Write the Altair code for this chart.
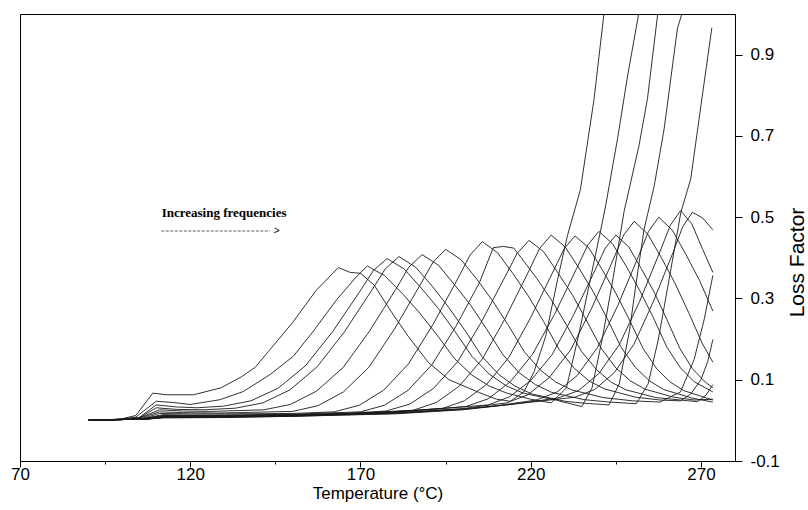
import altair as alt
import pandas as pd

# Loss factor curves (temperature °C, loss factor), lowest frequency first
C1 = [(90,0.000),(95,0.001),(100,0.004),(104,0.012),(109,0.067),(113,0.063),(121,0.063),(129,0.080),(135,0.107),(139,0.130),(143,0.170),(150,0.240),(157,0.320),(163.5,0.376),(167,0.364),(170,0.362),(174,0.333),(179,0.268),(184,0.207),(190,0.142),(196,0.100),(205,0.068),(210,0.052),(214,0.047),(218,0.070),(221,0.120),(224.4,0.207),(227.9,0.347),(230.8,0.455),(234.6,0.568),(238.6,0.790),(241.5,1.000),(243.5,1.150)]
C2 = [(90,0.000),(95,0.001),(100,0.003),(104,0.008),(110,0.047),(115,0.044),(120,0.039),(128.8,0.051),(135.6,0.071),(143.5,0.113),(150.3,0.158),(156.2,0.220),(163.1,0.298),(169,0.355),(172,0.380),(177.1,0.356),(182.3,0.312),(187.4,0.264),(192.5,0.210),(197.6,0.152),(202.8,0.111),(207.9,0.084),(213,0.067),(220,0.052),(226,0.043),(230.5,0.080),(234,0.207),(237.5,0.347),(240.6,0.470),(242,0.528),(245.5,0.693),(248.5,0.850),(251.7,1.000),(253.5,1.120)]
C3 = [(90,0.000),(95,0.001),(100,0.003),(105,0.007),(110,0.038),(116,0.033),(122,0.031),(129.8,0.035),(137.8,0.048),(145.8,0.079),(153.8,0.134),(161.8,0.218),(169.8,0.317),(173.8,0.369),(177.8,0.398),(182.8,0.373),(187.8,0.326),(192.8,0.276),(197.8,0.218),(202.8,0.157),(207.8,0.114),(212.8,0.085),(217.8,0.067),(227.8,0.049),(235,0.034),(238,0.080),(241,0.200),(244,0.340),(247.4,0.513),(251.8,0.676),(254.3,0.792),(257.3,1.000),(259,1.120)]
C4 = [(90,0.000),(95,0.001),(100,0.003),(105,0.006),(110,0.031),(116,0.027),(124,0.026),(133.3,0.030),(141.3,0.043),(149.3,0.075),(157.3,0.132),(165.3,0.218),(173.3,0.320),(177.3,0.373),(181.3,0.403),(186.2,0.377),(191.1,0.330),(195.9,0.278),(200.8,0.220),(205.7,0.157),(210.6,0.113),(215.4,0.084),(220.3,0.065),(230,0.047),(236,0.042),(243,0.038),(246,0.090),(249,0.220),(251,0.340),(253.3,0.470),(256.3,0.578),(259.2,0.718),(263.1,0.965),(264.4,1.000),(266,1.100)]
C5 = [(90,0.000),(95,0.001),(100,0.002),(105,0.006),(111,0.026),(118,0.023),(126,0.022),(141.6,0.026),(149.4,0.039),(157.1,0.072),(164.9,0.130),(172.6,0.219),(180.4,0.323),(184.2,0.377),(188.1,0.408),(192.9,0.382),(197.6,0.334),(202.4,0.283),(207.1,0.224),(211.9,0.161),(216.6,0.117),(221.4,0.088),(226.1,0.069),(235.6,0.051),(243,0.045),(251,0.041),(254.5,0.090),(257.5,0.200),(260.5,0.340),(264.1,0.512),(267,0.594),(270,0.775),(273.2,0.966)]
C6 = [(90,0.000),(95,0.001),(100,0.002),(105,0.005),(111,0.021),(118,0.019),(128,0.018),(150,0.022),(157.5,0.036),(165,0.070),(172.5,0.131),(180,0.225),(187.5,0.333),(191.3,0.389),(195,0.421),(199.6,0.395),(204.3,0.346),(208.9,0.293),(213.5,0.233),(218.1,0.169),(222.8,0.124),(227.4,0.094),(232,0.075),(241.3,0.056),(250,0.048),(258,0.045),(264,0.070),(268,0.150),(271,0.250),(273.5,0.357)]
C7 = [(90,0.000),(95,0.001),(100,0.002),(106,0.005),(111,0.017),(120,0.016),(130,0.016),(150,0.017),(162.3,0.021),(169.6,0.037),(176.8,0.074),(184.1,0.139),(191.3,0.236),(198.6,0.349),(202.2,0.407),(205.8,0.440),(210.3,0.412),(214.8,0.361),(219.3,0.306),(223.8,0.243),(228.3,0.175),(232.8,0.128),(237.3,0.096),(241.8,0.077),(250.8,0.057),(258,0.050),(264,0.048),(267,0.065),(270,0.100),(272,0.145),(273.5,0.199)]
C8 = [(90,0.000),(95,0.001),(100,0.002),(106,0.004),(112,0.014),(120,0.013),(130,0.013),(150,0.015),(170,0.021),(177,0.037),(184,0.074),(191,0.137),(198,0.231),(205,0.340),(209,0.425),(212,0.428),(215,0.424),(217.4,0.398),(221.8,0.349),(226.1,0.296),(230.5,0.235),(234.9,0.170),(239.3,0.125),(243.6,0.094),(248,0.075),(256.8,0.056),(264,0.050),(269,0.046),(271.5,0.062),(273.5,0.088)]
C9 = [(90,0.000),(95,0.001),(100,0.002),(106,0.004),(112,0.012),(125,0.012),(150,0.014),(165,0.017),(177.5,0.023),(184.5,0.040),(191.5,0.079),(198.5,0.144),(205.5,0.242),(212.5,0.354),(216,0.411),(219.5,0.443),(223.8,0.415),(228,0.363),(232.3,0.308),(236.5,0.244),(240.8,0.176),(245,0.129),(249.3,0.097),(253.5,0.077),(262,0.057),(268,0.050),(273.5,0.052)]
C10 = [(90,0.000),(95,0.001),(100,0.002),(106,0.004),(112,0.011),(125,0.011),(150,0.013),(170,0.018),(185.5,0.025),(192.3,0.044),(199,0.084),(205.8,0.151),(212.5,0.251),(219.3,0.365),(222.6,0.423),(226,0.456),(230.1,0.427),(234.3,0.373),(238.4,0.316),(242.5,0.250),(246.6,0.179),(250.8,0.130),(254.9,0.097),(259,0.076),(267.3,0.055),(273.5,0.045)]
C11 = [(90,0.000),(95,0.001),(100,0.002),(107,0.004),(112,0.010),(130,0.010),(150,0.012),(175,0.019),(194,0.029),(200.5,0.048),(207,0.088),(213.5,0.154),(220,0.253),(226.5,0.365),(229.8,0.422),(233,0.454),(237,0.425),(241,0.371),(245,0.313),(249,0.247),(253,0.177),(257,0.127),(261,0.094),(265,0.073),(273.5,0.050)]
C12 = [(90,0.000),(95,0.001),(100,0.002),(107,0.004),(112,0.009),(130,0.010),(150,0.012),(180,0.021),(201,0.034),(207.5,0.053),(214,0.095),(220.5,0.162),(227,0.261),(233.5,0.374),(236.8,0.432),(240,0.465),(244,0.435),(248,0.380),(252,0.320),(256,0.253),(260,0.180),(264,0.129),(268,0.095),(273.5,0.070)]
C13 = [(90,0.000),(95,0.001),(100,0.002),(107,0.003),(112,0.008),(130,0.009),(150,0.012),(180,0.020),(207.5,0.038),(213.8,0.058),(220,0.098),(226.3,0.162),(232.5,0.258),(238.8,0.368),(241.9,0.424),(245,0.456),(248.8,0.427),(252.5,0.373),(256.3,0.315),(260,0.248),(263.8,0.177),(267.5,0.127),(271.3,0.094),(273.5,0.080)]
C14 = [(90,0.000),(95,0.001),(100,0.002),(107,0.003),(112,0.008),(130,0.009),(150,0.011),(180,0.019),(200,0.029),(212.9,0.043),(219.2,0.063),(225.4,0.105),(231.7,0.173),(237.9,0.276),(244.2,0.395),(247.3,0.456),(250.4,0.490),(254.4,0.458),(258.4,0.400),(262.4,0.337),(266.4,0.265),(270.4,0.189),(273.5,0.143)]
C15 = [(90,0.000),(95,0.001),(100,0.002),(107,0.003),(112,0.007),(130,0.008),(150,0.011),(180,0.018),(200,0.028),(210,0.036),(221.6,0.050),(227.6,0.069),(233.6,0.110),(239.6,0.179),(245.6,0.283),(251.6,0.403),(254.6,0.465),(257.6,0.500),(261.6,0.468),(265.6,0.408),(269.6,0.344),(273.5,0.269)]
C16 = [(90,0.000),(95,0.001),(100,0.002),(107,0.003),(112,0.007),(130,0.008),(150,0.010),(180,0.017),(200,0.027),(215,0.040),(228,0.055),(234,0.073),(240,0.115),(246,0.186),(252,0.293),(258,0.416),(261,0.480),(264,0.516),(267.3,0.484),(270.5,0.421),(273.5,0.364)]
C17 = [(90,0.000),(95,0.001),(100,0.002),(107,0.003),(112,0.006),(130,0.007),(150,0.010),(180,0.016),(200,0.026),(215,0.040),(233,0.057),(238.8,0.076),(244.5,0.117),(250.3,0.187),(256,0.292),(261.8,0.413),(264.6,0.476),(267.5,0.512),(270.5,0.498),(273.5,0.469)]

CURVES = [C1, C2, C3, C4, C5, C6, C7, C8, C9, C10, C11, C12, C13, C14, C15, C16, C17]

X_TICKS = [70, 95, 120, 145, 170, 195, 220, 245, 270]
Y_TICKS = [-0.1, 0.1, 0.3, 0.5, 0.7, 0.9]
X_DOMAIN = [70, 280]
Y_DOMAIN = [-0.1, 1.0]

ANNOT_TEXT = ["Increasing frequencies"]
ANNOT_T = [111.6]
ANNOT_V = [0.501]
ARROW_T = [111.5]
ARROW_T2 = [143.4]
ARROW_V = [0.466]
ARROW_HEAD_T = [144.5]

rows = []
for i, c in enumerate(CURVES, start=1):
    for k, (t, v) in enumerate(c):
        rows.append({"curve": i, "k": k, "T": t, "V": v})
df = pd.DataFrame(rows)

xs = alt.Scale(domain=X_DOMAIN, nice=False, zero=False)
ys = alt.Scale(domain=Y_DOMAIN, nice=False, zero=False)

x_axis = alt.Axis(
    values=X_TICKS, title="Temperature (°C)", grid=False,
    labelExpr="datum.value % 50 == 20 ? datum.label : ''",
    tickSize={"condition": {"test": "datum.value % 50 == 20", "value": 6}, "value": 3},
    labelFlush=False, labelFont="Liberation Sans", labelFontSize=17, labelColor="black",
    labelPadding=-1, titleFont="Liberation Sans", titleFontSize=17, titleFontWeight="normal",
    titleColor="black", titlePadding=3, domainColor="black", tickColor="black",
)
y_axis = alt.Axis(
    orient="right", values=Y_TICKS, grid=False,
    labelExpr="datum.value < 0 ? '-' + format(-datum.value, '.1f') : format(datum.value, '.1f')",
    title="Loss Factor",
    tickSize=7, labelFlush=False, labelFont="Liberation Sans", labelFontSize=17,
    labelColor="black", labelPadding=8, labelAlign="left",
    titleFont="Liberation Sans", titleFontSize=21, titleFontWeight="normal", titleColor="black",
    titleAngle=270, titleX=62, titleY=248, titleAlign="center", titleBaseline="middle",
    domainColor="black", tickColor="black",
)

lines = alt.Chart(df).mark_line(clip=True, color="#1a1a1a", strokeWidth=0.9).encode(
    x=alt.X("T:Q", scale=xs, axis=x_axis),
    y=alt.Y("V:Q", scale=ys, axis=y_axis),
    detail="curve:N",
    order="k:Q",
)

annot_df = pd.DataFrame({"T": ANNOT_T, "V": ANNOT_V, "label": ANNOT_TEXT})
annot = alt.Chart(annot_df).mark_text(
    align="left", baseline="alphabetic", font="Liberation Serif", fontWeight="bold",
    fontSize=13, color="black"
).encode(x=alt.X("T:Q", scale=xs), y=alt.Y("V:Q", scale=ys), text="label:N")

arrow_df = pd.DataFrame({"T": ARROW_T, "T2": ARROW_T2, "V": ARROW_V})
arrow = alt.Chart(arrow_df).mark_rule(strokeDash=[3, 1.5], strokeWidth=0.8, color="#333333").encode(
    x=alt.X("T:Q", scale=xs), x2="T2:Q", y=alt.Y("V:Q", scale=ys)
)

head_df = pd.DataFrame({"T": ARROW_HEAD_T, "V": ARROW_V, "label": [">"]})
head = alt.Chart(head_df).mark_text(
    align="left", baseline="middle", font="Liberation Sans", fontSize=10, color="black"
).encode(x=alt.X("T:Q", scale=xs), y=alt.Y("V:Q", scale=ys), text="label:N")

chart = alt.layer(lines, arrow, head, annot).properties(
    width=715, height=447,
    autosize=alt.AutoSizeParams(type="none"),
    padding={"left": 20, "top": 14, "right": 73, "bottom": 49},
    background="white",
).configure_view(stroke="black", strokeWidth=1)

chart.save("out.html", embed_options={"renderer": "svg", "actions": False})
